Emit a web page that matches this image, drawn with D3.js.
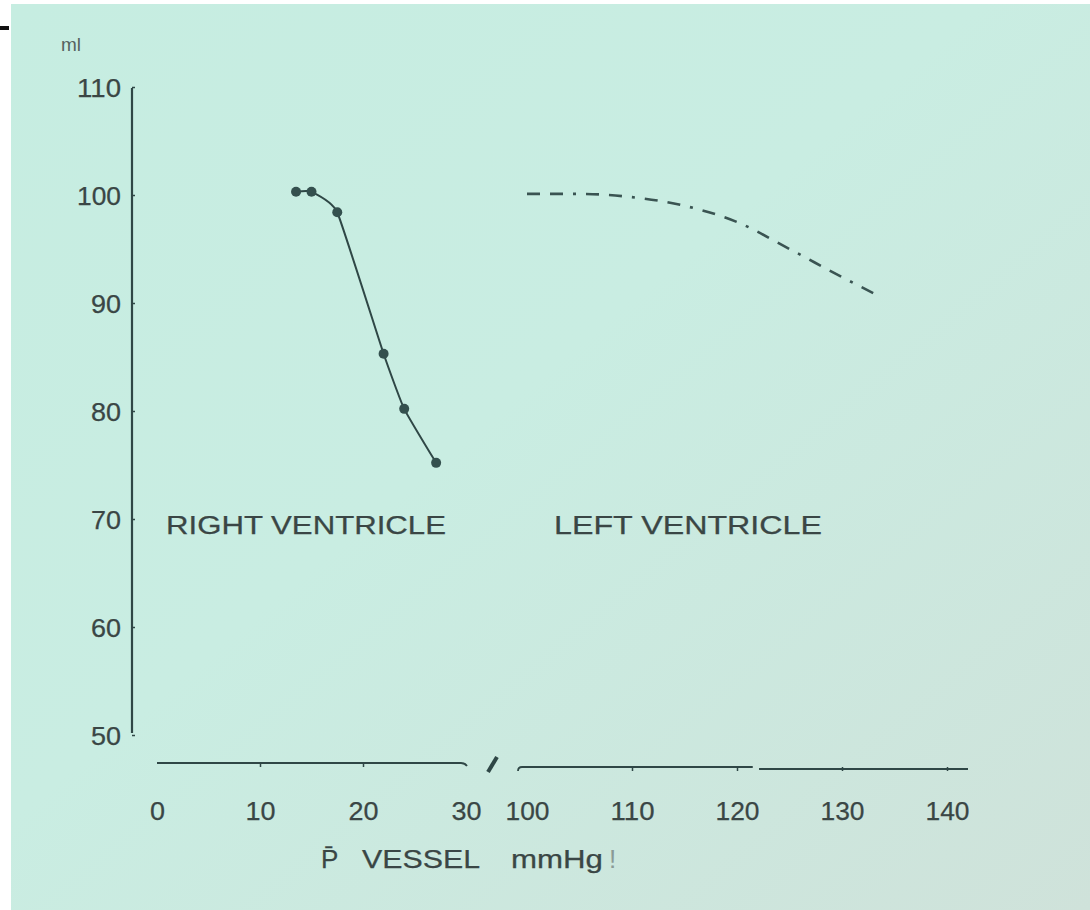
<!DOCTYPE html>
<html>
<head>
<meta charset="utf-8">
<script src="https://cdn.jsdelivr.net/npm/d3@7"></script>
<style>
  body { margin: 0; background: #ffffff; }
  svg { display: block; }
  .lbl { font-family: "Liberation Sans", "DejaVu Sans", sans-serif; fill: #3a4645; stroke: #3a4645; stroke-width: 0.25px; }
</style>
</head>
<body>
<svg id="chart" width="1090" height="910"></svg>
<script>
// data
var rvPressure = [13.5, 15, 17.5, 22, 24, 27.1]
var rvVolume = [100.3, 100.3, 98.4, 85.3, 80.2, 75.2]

var lvPressure = [100, 105, 110, 115, 120, 125, 130, 133]
var lvVolume = [100.1, 100.1, 99.8, 99.0, 97.5, 95.0, 92.4, 90.9]

var yTicks = [50, 60, 70, 80, 90, 100, 110]
var xTicksLow = [0, 10, 20, 30]
var xTicksHigh = [100, 110, 120, 130, 140]

var svg = d3.select("#chart")
var ink = "#2f4746"

// photo background
var defs = svg.append("defs")
var grad = defs.append("linearGradient")
  .attr("id", "bg")
  .attr("x1", "0").attr("y1", "0").attr("x2", "1").attr("y2", "1")
grad.append("stop").attr("offset", "0").attr("stop-color", "#c6ede1")
grad.append("stop").attr("offset", "0.45").attr("stop-color", "#c9ede2")
grad.append("stop").attr("offset", "1").attr("stop-color", "#cfe2da")

svg.append("rect")
  .attr("x", 11).attr("y", 4)
  .attr("width", 1079).attr("height", 906)
  .attr("fill", "url(#bg)")

svg.append("rect")
  .attr("x", 0).attr("y", 26)
  .attr("width", 9).attr("height", 4)
  .attr("fill", "#111")

// scales
var y = d3.scaleLinear().domain([50, 110]).range([735, 87])
var xLow = d3.scaleLinear().domain([0, 30]).range([157, 466])
var xHigh = d3.scaleLinear().domain([100, 140]).range([527, 947])

// y axis
var yAxis = svg.append("g")
  .attr("transform", "translate(132,0)")
  .call(d3.axisLeft(y).tickValues(yTicks).tickSize(-3).tickSizeOuter(0).tickPadding(12))

yAxis.select(".domain")
  .attr("d", "M0," + (y(110) + 1) + "V" + (y(50) - 2))
  .attr("stroke", ink).attr("stroke-width", 2.2)
yAxis.selectAll(".tick line").attr("stroke", ink).attr("stroke-width", 1.5)
yAxis.selectAll(".tick text")
  .attr("class", "lbl")
  .attr("x", -11)
  .attr("dy", "0.36em")
  .attr("textLength", function (d) { return d >= 100 ? 44 : 30 })
  .attr("lengthAdjust", "spacingAndGlyphs")
  .style("font-size", "25px")
  .attr("fill", null)

svg.append("text")
  .attr("class", "lbl")
  .attr("x", 61).attr("y", 51)
  .style("font-size", "19px")
  .style("fill", "#56625f")
  .style("stroke", "none")
  .text("ml")

// x axis, low pressure segment
var axLow = svg.append("g")
  .attr("transform", "translate(0,763)")
  .call(d3.axisBottom(xLow).tickValues(xTicksLow).tickSize(4).tickSizeOuter(0))

axLow.select(".domain")
  .attr("d", "M" + xLow(0) + ",0H" + (xLow(30) - 5) + "q4,0 6,3")
  .attr("fill", "none")
  .attr("stroke", ink).attr("stroke-width", 1.8)

// x axis, high pressure segment (drawn in two pieces like the original)
var axHigh = svg.append("g")
  .attr("transform", "translate(0,767)")
  .call(d3.axisBottom(xHigh).tickValues(xTicksHigh).tickSize(4).tickSizeOuter(0))

axHigh.select(".domain")
  .attr("d", "M" + (xHigh(100) - 9) + ",4q0,-4 4,-4H" + xHigh(121.5) +
    "M" + xHigh(122.1) + ",2H" + xHigh(142))
  .attr("fill", "none")
  .attr("stroke", ink).attr("stroke-width", 1.8)

;[axLow, axHigh].forEach(function (ax) {
  ax.selectAll(".tick line").attr("stroke", ink).attr("stroke-width", 1.5)
  ax.selectAll(".tick text")
    .attr("class", "lbl")
    .attr("y", ax === axLow ? 57 : 53)
    .attr("dy", "0")
    .attr("textLength", function (d) { return d >= 100 ? 44 : (d == 0 ? 15 : 30) })
    .attr("lengthAdjust", "spacingAndGlyphs")
    .style("font-size", "25px")
    .attr("fill", null)
})
axLow.selectAll(".tick line").filter(function (d) { return d == 0 || d == 30 }).remove()
axHigh.selectAll(".tick line").filter(function (d) { return d == 100 }).remove()

// break mark
svg.append("path")
  .attr("d", "M488,772L497,757")
  .attr("stroke", ink).attr("stroke-width", 4)

// right ventricle
var rvData = rvPressure.map(function (p, i) { return { p: p, v: rvVolume[i] } })

svg.append("path")
  .datum(rvData)
  .attr("fill", "none")
  .attr("stroke", ink)
  .attr("stroke-width", 2)
  .attr("d", d3.line()
    .curve(d3.curveCardinal.tension(0.6))
    .x(function (d) { return xLow(d.p) })
    .y(function (d) { return y(d.v) }))

svg.selectAll(".rvdot")
  .data(rvData)
  .enter()
  .append("circle")
  .attr("class", "rvdot")
  .attr("cx", function (d) { return xLow(d.p) })
  .attr("cy", function (d) { return y(d.v) })
  .attr("r", 5)
  .attr("fill", "#34504e")

// left ventricle
var lvData = lvPressure.map(function (p, i) { return { p: p, v: lvVolume[i] } })

svg.append("path")
  .datum(lvData)
  .attr("fill", "none")
  .attr("stroke", "#3a5452")
  .attr("stroke-width", 2.6)
  .attr("stroke-dasharray", "13,10,13,10,3,10")
  .attr("d", d3.line()
    .curve(d3.curveMonotoneX)
    .x(function (d) { return xHigh(d.p) })
    .y(function (d) { return y(d.v) }))

// labels
svg.append("text")
  .attr("class", "lbl")
  .attr("x", 166).attr("y", 534)
  .attr("textLength", 280)
  .attr("lengthAdjust", "spacingAndGlyphs")
  .style("font-size", "25px")
  .text("RIGHT VENTRICLE")

svg.append("text")
  .attr("class", "lbl")
  .attr("x", 554).attr("y", 534)
  .attr("textLength", 268)
  .attr("lengthAdjust", "spacingAndGlyphs")
  .style("font-size", "25px")
  .text("LEFT VENTRICLE")

var title = svg.append("text")
  .attr("class", "lbl")
  .attr("y", 868)
  .style("font-size", "26px")

title.append("tspan").attr("x", 321).text("P̄")
title.append("tspan").attr("x", 362).attr("textLength", 118).attr("lengthAdjust", "spacingAndGlyphs").text("VESSEL")
title.append("tspan").attr("x", 511).attr("textLength", 92).attr("lengthAdjust", "spacingAndGlyphs").text("mmHg")
title.append("tspan").attr("x", 609).style("fill", "#8a9a96").style("stroke", "none").text("!")
</script>
</body>
</html>
